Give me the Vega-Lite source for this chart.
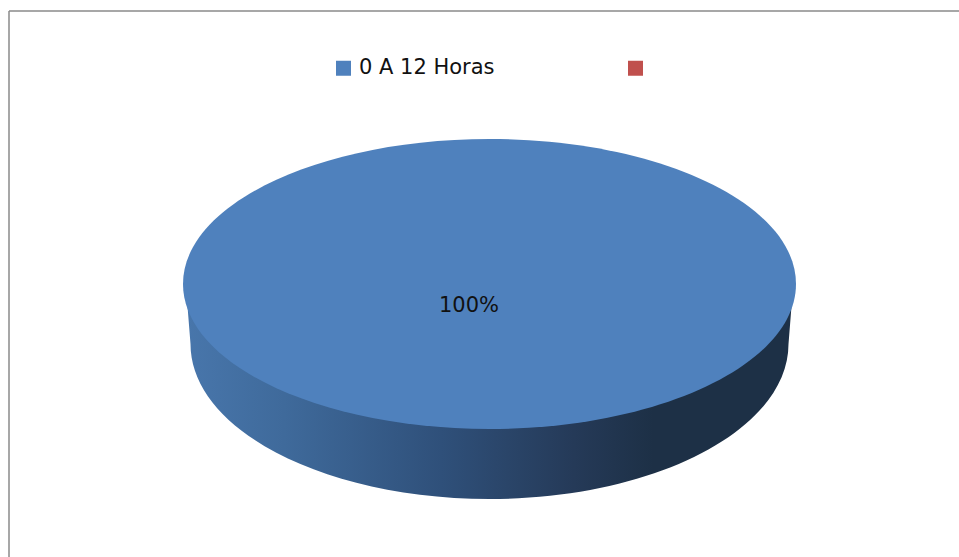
{"$schema":"https://vega.github.io/schema/vega-lite/v6.json","width":950,"height":546,"autosize":"none","padding":{"left":8.5,"top":10.5,"right":0,"bottom":0},"background":"white","view":{"stroke":null},"data":{"values":[{"categoria":"0 A 12 Horas","valor":100,"rotulo":"100%"},{"categoria":" ","valor":0,"rotulo":""}]},"encoding":{"x":{"datum":50,"type":"quantitative","scale":{"domain":[0,100],"nice":false},"axis":{"orient":"top","title":null,"labels":false,"ticks":false,"grid":false,"domainColor":"#8a8a8a","domainWidth":1.5}},"y":{"datum":50,"type":"quantitative","scale":{"domain":[0,100],"nice":false},"axis":{"orient":"left","title":null,"labels":false,"ticks":false,"grid":false,"domainColor":"#8a8a8a","domainWidth":1.5}},"size":{"field":"valor","type":"quantitative","scale":{"domain":[0,100],"range":[0,4],"zero":true},"legend":null}},"layer":[{"transform":[{"filter":"datum.valor > 0"}],"mark":{"type":"point","filled":true,"opacity":1,"strokeWidth":0,"xOffset":6,"yOffset":0.5,"shape":"M-302.5 16L-299 60A299 155 0 0 0 299 60L302.5 16L297 -30L-297 -30Z","fill":{"gradient":"linear","x1":0,"y1":0,"x2":1,"y2":0,"stops":[{"offset":0,"color":"#4876ab"},{"offset":0.16,"color":"#3f6a9b"},{"offset":0.42,"color":"#2f507a"},{"offset":0.64,"color":"#253a58"},{"offset":0.77,"color":"#1d3046"},{"offset":1,"color":"#1d3046"}]}}},{"mark":{"type":"point","filled":true,"opacity":1,"strokeWidth":0,"xOffset":6,"yOffset":0.5,"shape":"M-306.5 0A306.5 145 0 1 1 306.5 0A306.5 145 0 1 1 -306.5 0Z"},"encoding":{"color":{"field":"categoria","type":"nominal","scale":{"domain":["0 A 12 Horas"," "],"range":["#4f81bd","#c0504d"]},"legend":{"orient":"none","legendX":324.5,"legendY":47,"direction":"horizontal","title":null,"symbolType":"square","symbolSize":225,"symbolStrokeWidth":0,"symbolOpacity":1,"labelFont":"DejaVu Sans","labelFontSize":21,"labelColor":"#111111","labelOffset":5,"columnPadding":130,"padding":0,"labelLimit":300}}}},{"transform":[{"filter":"datum.valor > 0"}],"mark":{"type":"text","font":"DejaVu Sans","fontSize":21,"color":"#111111","xOffset":-14.5,"yOffset":22},"encoding":{"text":{"field":"rotulo"},"size":{"value":21}}}]}
